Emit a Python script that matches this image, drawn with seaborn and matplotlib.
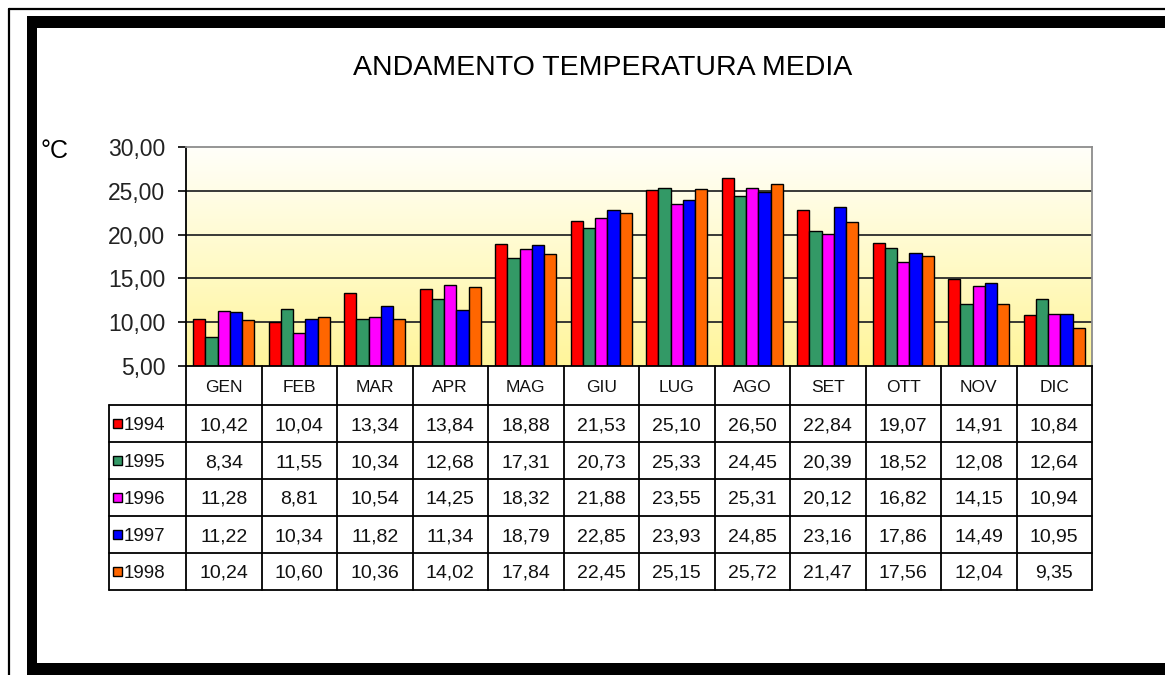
import numpy as np
import pandas as pd
import matplotlib
matplotlib.use("Agg")
import matplotlib.pyplot as plt
from matplotlib.colors import LinearSegmentedColormap
from matplotlib.patches import Rectangle
from matplotlib.lines import Line2D
from matplotlib.ticker import FixedLocator, FuncFormatter
import seaborn as sns

# Monthly mean temperatures (°C), one list per year
months = ["GEN", "FEB", "MAR", "APR", "MAG", "GIU", "LUG", "AGO", "SET", "OTT", "NOV", "DIC"]
years = ["1994", "1995", "1996", "1997", "1998"]
t1994 = [10.42, 10.04, 13.34, 13.84, 18.88, 21.53, 25.10, 26.50, 22.84, 19.07, 14.91, 10.84]
t1995 = [8.34, 11.55, 10.34, 12.68, 17.31, 20.73, 25.33, 24.45, 20.39, 18.52, 12.08, 12.64]
t1996 = [11.28, 8.81, 10.54, 14.25, 18.32, 21.88, 23.55, 25.31, 20.12, 16.82, 14.15, 10.94]
t1997 = [11.22, 10.34, 11.82, 11.34, 18.79, 22.85, 23.93, 24.85, 23.16, 17.86, 14.49, 10.95]
t1998 = [10.24, 10.60, 10.36, 14.02, 17.84, 22.45, 25.15, 25.72, 21.47, 17.56, 12.04, 9.35]
y_ticks = [5, 10, 15, 20, 25, 30]

series = [t1994, t1995, t1996, t1997, t1998]
colors = ["#FF0000", "#339966", "#FF00FF", "#0000FF", "#FF6600"]

df = pd.DataFrame(
    [(m, y, v) for y, vals in zip(years, series) for m, v in zip(months, vals)],
    columns=["mese", "anno", "temp"],
)

sns.set_style("white")
plt.rcParams["font.family"] = ["Liberation Sans", "DejaVu Sans"]


def fmt(v):
    return f"{v:.2f}".replace(".", ",")


W, H = 1165, 675
fig = plt.figure(figsize=(W / 100, H / 100), dpi=100)
fig.patch.set_facecolor("white")


def fx(px):
    return px / W


def fy(py):
    return 1 - py / H


# ---- frame around the chart ----
fig.add_artist(Line2D([fx(8.5), fx(8.5)], [fy(8.5), 0], color="black", lw=1.6))
fig.add_artist(Line2D([fx(8.5), 1], [fy(8.5), fy(8.5)], color="black", lw=1.6))
for x0, y0, x1, y1 in [(27, 16, 37, 675), (27, 16, 1165, 28), (27, 663, 1165, 675)]:
    fig.add_artist(Rectangle((fx(x0), fy(y1)), fx(x1) - fx(x0), fy(y0) - fy(y1),
                             transform=fig.transFigure, facecolor="black",
                             edgecolor="none"))

# ---- bar chart ----
L, R, T, B = 186, 1092, 147, 366
ax = fig.add_axes([fx(L), fy(B), (R - L) / W, (B - T) / H])

bg = LinearSegmentedColormap.from_list(
    "bg", [(0.0, "#FFF59A"), (0.45, "#FFFAC6"), (1.0, "#FFFFFA")])
ax.imshow(np.linspace(0, 1, 256).reshape(-1, 1), cmap=bg, aspect="auto",
          extent=[0, 1, 0, 1], transform=ax.transAxes, origin="lower", zorder=0)

sns.barplot(data=df, x="mese", y="temp", hue="anno", order=months,
            hue_order=years, palette=colors, saturation=1, width=0.81,
            edgecolor="black", linewidth=1.0, legend=False, ax=ax, zorder=2)

for v in y_ticks[1:-1]:
    ax.axhline(v, color="#2a2a2a", lw=1.3, zorder=1)

ax.set_xlim(-0.5, len(months) - 0.5)
ax.set_ylim(y_ticks[0], y_ticks[-1])
ax.set_xticks([])
ax.set_xlabel("")
ax.set_ylabel("")
ax.yaxis.set_major_locator(FixedLocator(y_ticks))
ax.yaxis.set_major_formatter(FuncFormatter(lambda v, p: fmt(v)))
ax.tick_params(axis="y", left=True, length=6, width=1.2, color="black",
               pad=9, labelsize=16.5, labelcolor="#222222")
for side in ("left", "bottom"):
    ax.spines[side].set_color("black")
    ax.spines[side].set_linewidth(1.3)
for side in ("top", "right"):
    ax.spines[side].set_color("#8c8c8c")
    ax.spines[side].set_linewidth(1.3)

# ---- data table under the chart ----
TL, TB = 109, 590
col_px = (R - L) / len(months)
x0 = -0.5 - (L - TL) / col_px
x1 = len(months) - 0.5
tax = fig.add_axes([fx(TL), fy(TB), (R - TL) / W, (TB - B) / H])
tax.set_xlim(x0, x1)
tax.set_ylim(TB - B, 0)
tax.axis("off")

head_h = 39
row_h = (TB - B - head_h) / len(years)
line_kw = dict(color="black", lw=1.3, clip_on=False)

for k in range(len(months) + 1):
    tax.plot([-0.5 + k, -0.5 + k], [0, TB - B], **line_kw)
tax.plot([x0, x0], [head_h, TB - B], **line_kw)
for r in range(len(years) + 1):
    y = head_h + r * row_h
    tax.plot([x0, x1], [y, y], **line_kw)

for i, m in enumerate(months):
    tax.text(i, head_h / 2 + 6, m, ha="center", va="baseline", fontsize=12.5,
             color="#111111")

for r, (yr, vals, c) in enumerate(zip(years, series, colors)):
    yc = head_h + (r + 0.5) * row_h
    tax.add_patch(Rectangle((x0 + 4 / col_px, yc - 4.5), 9 / col_px, 9,
                            facecolor=c, edgecolor="black", lw=1.0,
                            clip_on=False))
    tax.text(x0 + 15 / col_px, yc + 6.5, yr, ha="left", va="baseline",
             fontsize=13.5, color="#111111")
    for i, v in enumerate(vals):
        tax.text(i, yc + 6.5, fmt(v), ha="center", va="baseline",
                 fontsize=14, color="#111111")

# ---- titles ----
fig.text(fx(603), fy(75), "ANDAMENTO TEMPERATURA MEDIA", ha="center",
         va="baseline", fontsize=20.5, color="black")
fig.text(fx(40), fy(158), "°C", ha="left", va="baseline", fontsize=18,
         color="black")

fig.savefig("out.png", dpi=100)
